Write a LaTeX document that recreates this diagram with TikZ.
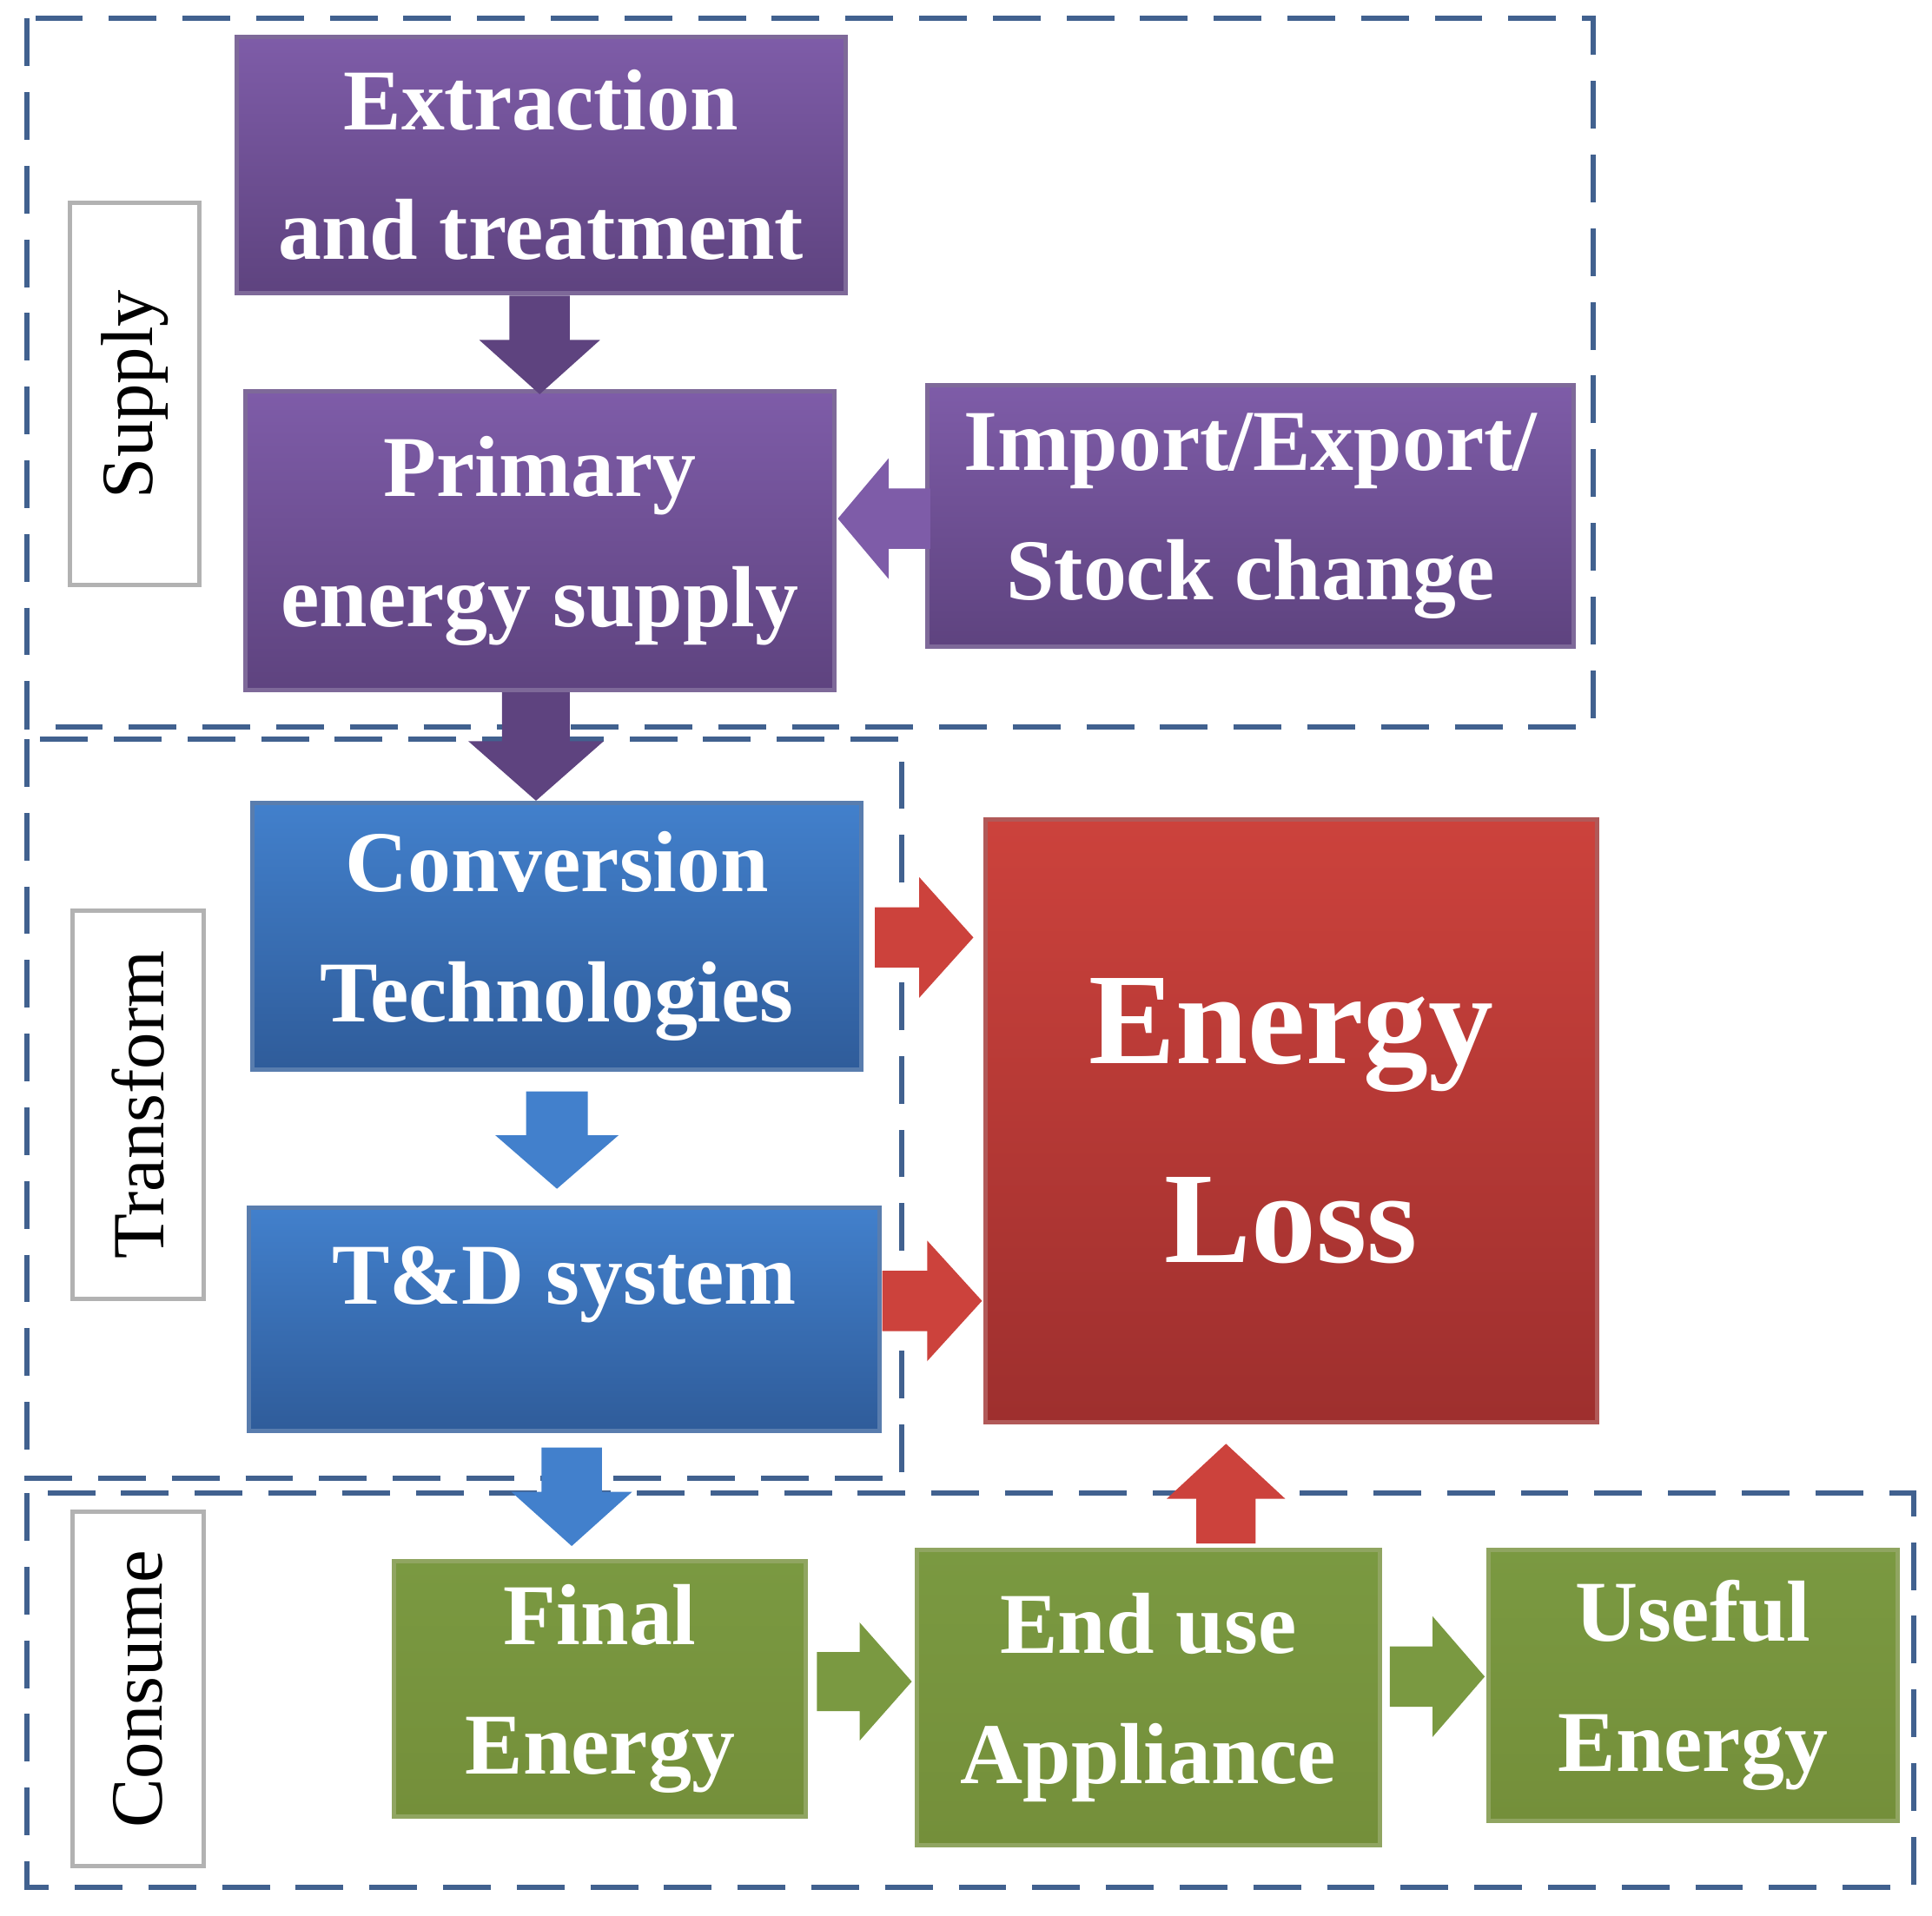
\documentclass[tikz,border=0pt]{standalone}
\usepackage{fontspec}
\setmainfont{Liberation Serif}
\begin{document}
\definecolor{dash}{HTML}{41618F}
\definecolor{pT}{HTML}{7E5CA8}\definecolor{pB}{HTML}{5E437F}
\definecolor{bT}{HTML}{4280CC}\definecolor{bB}{HTML}{2F5C9A}
\definecolor{rT}{HTML}{CC423C}\definecolor{rB}{HTML}{9E2F2E}
\definecolor{gT}{HTML}{7A9941}\definecolor{gB}{HTML}{748F3A}
\newcommand\barrow[6]{\begin{scope}[shift={(#1,#2)},rotate=#3]
\fill[#6] (0,-#5/2) -- ({#4*0.45},-#5/2) -- ({#4*0.45},-#5) -- (#4,0) -- ({#4*0.45},#5) -- ({#4*0.45},#5/2) -- (0,#5/2) -- cycle;
\end{scope}}
\begin{tikzpicture}[x=0.01cm,y=0.01cm,
 box/.style={draw=#1B!80!white,line width=1pt,top color=#1T,bottom color=#1B,text=white,font=\bfseries\fontsize{20}{30}\selectfont,align=center,inner sep=0pt},
 grp/.style={draw=dash,line width=1.2pt,dash pattern=on 11pt off 6pt},
 lab/.style={draw=gray!60,line width=1pt,fill=white,inner sep=0pt},
 labt/.style={rotate=90,font=\fontsize{17}{20}\selectfont}]
\useasboundingbox (0,0) rectangle (1568,-1555);
\draw[grp] (22,-15) rectangle (1293,-590);
\draw[grp] (22,-600) rectangle (732,-1200);
\draw[grp] (22,-1212) rectangle (1553,-1532);
\node[lab,minimum width=1.05cm,minimum height=3.1cm] (ls) at (109.5,-320) {};
\node[labt] (lsup) at (109.5,-320) {Supply};
\node[lab,minimum width=1.06cm,minimum height=3.15cm] (lt) at (112,-897) {};
\node[labt] (ltr) at (112,-897) {Transform};
\node[lab,minimum width=1.06cm,minimum height=2.87cm] (lc) at (112,-1371) {};
\node[labt] (lco) at (112,-1371) {Consume};
\node[box=p,minimum width=4.94cm,minimum height=2.08cm] (ext) at (439,-134) {Extraction\\and treatment};
\node[box=p,minimum width=4.78cm,minimum height=2.42cm] (pri) at (438,-439) {Primary\\energy supply};
\node[box=p,minimum width=5.24cm,minimum height=2.12cm] (imp) at (1015,-419) {Import/Export/\\Stock change};
\node[box=b,minimum width=4.94cm,minimum height=2.16cm] (con) at (452,-760) {Conversion\\Technologies};
\node[box=b,minimum width=5.12cm,minimum height=1.81cm] (td) at (458,-1071) {};
\node[text=white,font=\bfseries\fontsize{20}{30}\selectfont] (tdt) at (458,-1043) {T\&D system};
\node[box=r,minimum width=4.96cm,minimum height=4.89cm,font=\bfseries\fontsize{30}{46}\selectfont] (loss) at (1048,-910) {Energy\\Loss};
\node[box=g,minimum width=3.34cm,minimum height=2.07cm] (fin) at (487,-1371) {Final\\Energy};
\node[box=g,minimum width=3.75cm,minimum height=2.40cm] (end) at (932,-1378) {End use\\Appliance};
\node[box=g,minimum width=3.32cm,minimum height=2.20cm] (use) at (1374,-1368) {Useful\\Energy};
\barrow{438}{-240}{-90}{80}{49}{pB}
\barrow{755}{-421}{180}{75}{49}{pT}
\barrow{435}{-562}{-90}{88}{55}{pB}
\barrow{710}{-761}{0}{80}{49}{rT}
\barrow{452}{-886}{-90}{79}{50}{bT}
\barrow{716}{-1056}{0}{81}{49}{rT}
\barrow{464}{-1175}{-90}{80}{49}{bT}
\barrow{663}{-1365}{0}{77}{48}{gT}
\barrow{995}{-1253}{90}{81}{48}{rT}
\barrow{1128}{-1361}{0}{77}{49}{gT}
\end{tikzpicture}
\end{document}
